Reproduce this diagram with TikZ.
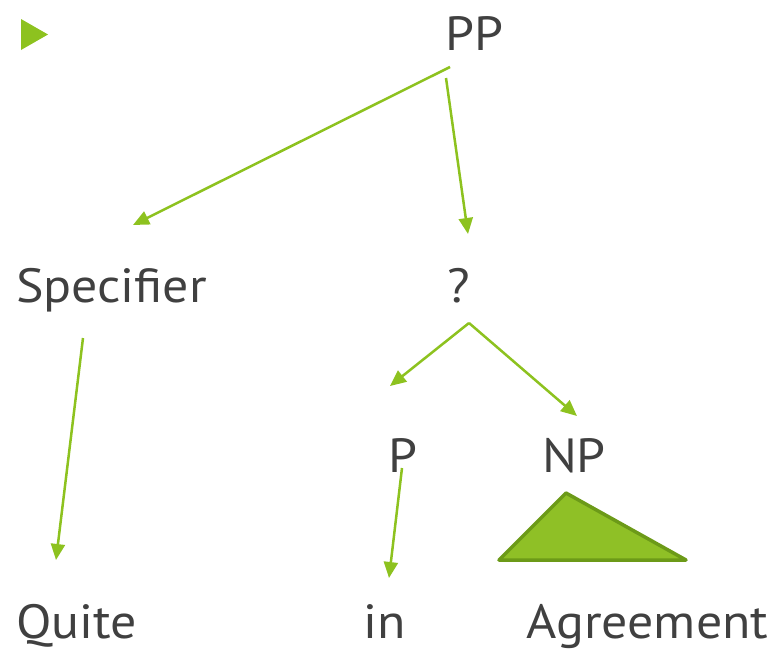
\documentclass[tikz,border=0pt]{standalone}
\usepackage{fontspec}
\setmainfont[FakeStretch=1.08]{PT Sans}
\usetikzlibrary{arrows.meta}
\definecolor{arrgreen}{HTML}{8DC21F}
\definecolor{trifill}{HTML}{8FC026}
\definecolor{triedge}{HTML}{6C9A18}
\definecolor{txt}{HTML}{404040}
\tikzset{
  lbl/.style={anchor=base, inner sep=0pt, text=txt, font=\fontsize{48}{50}\selectfont},
  arr/.style={draw=arrgreen, line width=2.5pt, -{Triangle[length=16pt,width=14pt]}},
}
\begin{document}
\begin{tikzpicture}[x=1pt,y=-1pt]
\useasboundingbox (0,0) rectangle (773,651);
% bullet
\fill[arrgreen] (21,19) -- (21,50) -- (48,34.5) -- cycle;
% labels
\node[lbl] (PP) at (474,50) {PP};
\node[lbl] (Spec) at (111.5,302) {Specifier};
\node[lbl] (Q) at (459,302) {?};
\node[lbl] (P) at (403,472) {P};
\node[lbl] (NP) at (574,472) {NP};
\node[lbl] (Quite) at (76.5,638) {Quite};
\node[lbl] (in) at (384.5,638) {in};
\node[lbl] (Agr) at (647.5,638) {Agreement};
% arrows
\draw[arr] ([shift={(-24,17)}]PP.base) -- ([shift={(21.5,-77)}]Spec.base);
\draw[arr] ([shift={(-28,28)}]PP.base) -- ([shift={(9,-68)}]Q.base);
\draw[arr] ([shift={(-28.5,36)}]Spec.base) -- ([shift={(-20.5,-78)}]Quite.base);
\draw[arr] ([shift={(10,21)}]Q.base) -- ([shift={(-13,-86)}]P.base);
\draw[arr] ([shift={(10,21)}]Q.base) -- ([shift={(3,-56)}]NP.base);
\draw[arr] ([shift={(-1,-4)}]P.base) -- ([shift={(4.5,-60)}]in.base);
% triangle under NP
\draw[fill=trifill, draw=triedge, line width=3.5pt, line join=round]
  ([shift={(-8,21)}]NP.base) -- ([shift={(-75,88)}]NP.base) -- ([shift={(112,88)}]NP.base) -- cycle;
\end{tikzpicture}
\end{document}
